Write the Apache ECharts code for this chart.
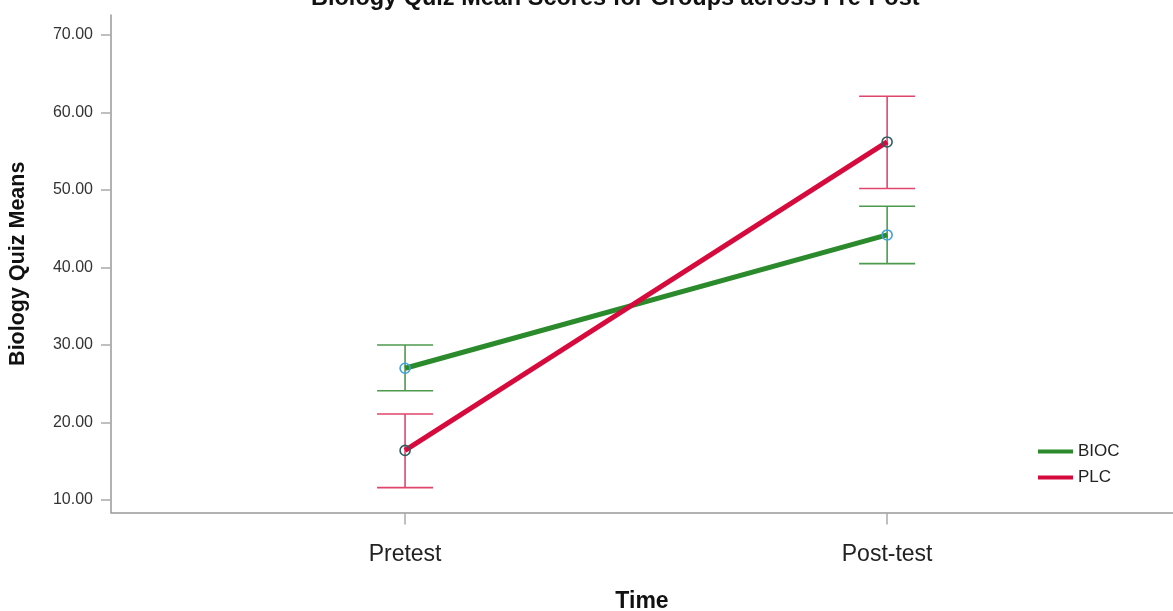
<!DOCTYPE html>
<html>
<head>
<meta charset="utf-8">
<script src="https://cdn.jsdelivr.net/npm/echarts@6/dist/echarts.min.js"></script>
<style>
  html, body { margin: 0; padding: 0; background: #fff; }
  #chart { width: 1173px; height: 611px; }
</style>
</head>
<body>
<div id="chart"></div>
<script>
// --- données --- //
const times = ['Pretest', 'Post-test'];
const groups = ['BIOC', 'PLC'];
const biocMeans = [27.0, 44.2];
const biocLow = [24.1, 40.5];
const biocHigh = [30.0, 47.9];
const plcMeans = [16.4, 56.2];
const plcLow = [11.6, 50.2];
const plcHigh = [21.1, 62.1];
const yTicks = [10, 20, 30, 40, 50, 60, 70];

const lineColors = ['#2b8a2b', '#d60a3c'];
const barColors = ['#4c9a4c', '#e0456c'];
const markColors = ['#3fa0dd', '#2e5e60'];
const fontFamily = '"Liberation Sans", Arial, sans-serif';

function pts(vals) {
  return vals.map((v, i) => [i, v]);
}

function errorSeries(name, low, high, color) {
  return {
    name: name,
    type: 'custom',
    z: 1,
    silent: true,
    data: low.map((l, i) => [i, l, high[i]]),
    renderItem: function (params, api) {
      const lo = api.coord([api.value(0), api.value(1)]);
      const hi = api.coord([api.value(0), api.value(2)]);
      const hw = 28;
      const style = { stroke: color, lineWidth: 1.6 };
      return {
        type: 'group',
        children: [
          { type: 'line', shape: { x1: lo[0], y1: lo[1], x2: hi[0], y2: hi[1] }, style: style },
          { type: 'line', shape: { x1: hi[0] - hw, y1: hi[1], x2: hi[0] + hw, y2: hi[1] }, style: style },
          { type: 'line', shape: { x1: lo[0] - hw, y1: lo[1], x2: lo[0] + hw, y2: lo[1] }, style: style }
        ]
      };
    }
  };
}

function meanSeries(name, vals, idx) {
  return {
    name: name,
    type: 'line',
    z: 3,
    data: pts(vals),
    symbol: 'circle',
    symbolSize: 10,
    lineStyle: { color: lineColors[idx], width: 5 },
    itemStyle: { color: 'rgba(255,255,255,0)', borderColor: markColors[idx], borderWidth: 1.6 },
    emphasis: { disabled: true }
  };
}

const chart = echarts.init(document.getElementById('chart'));
chart.setOption({
  backgroundColor: '#fff',
  animation: false,
  textStyle: { fontFamily: fontFamily },
  title: {
    text: 'Biology Quiz Mean Scores for Groups across Pre-Post',
    left: 306,
    top: -18,
    textStyle: { fontSize: 23.5, fontWeight: 'bold', color: '#111', fontFamily: fontFamily }
  },
  legend: {
    orient: 'vertical',
    left: 1033,
    top: 438,
    icon: 'rect',
    itemWidth: 35,
    itemHeight: 4,
    itemGap: 9,
    textStyle: { fontSize: 17, color: '#222', lineHeight: 17 },
    data: groups.map((g, i) => ({ name: g, itemStyle: { color: lineColors[i], borderWidth: 0 } }))
  },
  grid: { left: 111, right: 0, top: 15, bottom: 98.5, outerBoundsMode: 'none', containLabel: false },
  xAxis: {
    type: 'value',
    min: -0.61,
    max: 1.593,
    name: 'Time',
    nameLocation: 'middle',
    nameGap: 78,
    nameTextStyle: { fontSize: 23, fontWeight: 'bold', color: '#111' },
    splitLine: { show: false },
    axisLine: { show: true, onZero: false, lineStyle: { color: '#999', width: 1.5 } },
    axisTick: { show: true, length: 12, lineStyle: { color: '#aaa', width: 1.5 }, customValues: [0, 1] },
    axisLabel: {
      customValues: [0, 1],
      formatter: v => times[Math.round(v)],
      fontSize: 23,
      color: '#222',
      margin: 31
    }
  },
  yAxis: {
    type: 'value',
    min: 8.39,
    max: 72.58,
    name: 'Biology Quiz Means',
    nameLocation: 'middle',
    nameGap: 82,
    nameTextStyle: { fontSize: 21.5, fontWeight: 'bold', color: '#111' },
    splitLine: { show: false },
    axisLine: { show: true, onZero: false, lineStyle: { color: '#999', width: 1.5 } },
    axisTick: { show: true, length: 10, lineStyle: { color: '#aaa', width: 1.5 }, customValues: yTicks },
    axisLabel: {
      customValues: yTicks,
      formatter: v => v.toFixed(2),
      fontSize: 16,
      color: '#333',
      margin: 18
    }
  },
  series: [
    errorSeries('BIOC', biocLow, biocHigh, barColors[0]),
    errorSeries('PLC', plcLow, plcHigh, barColors[1]),
    meanSeries('BIOC', biocMeans, 0),
    meanSeries('PLC', plcMeans, 1)
  ]
});
</script>
</body>
</html>
